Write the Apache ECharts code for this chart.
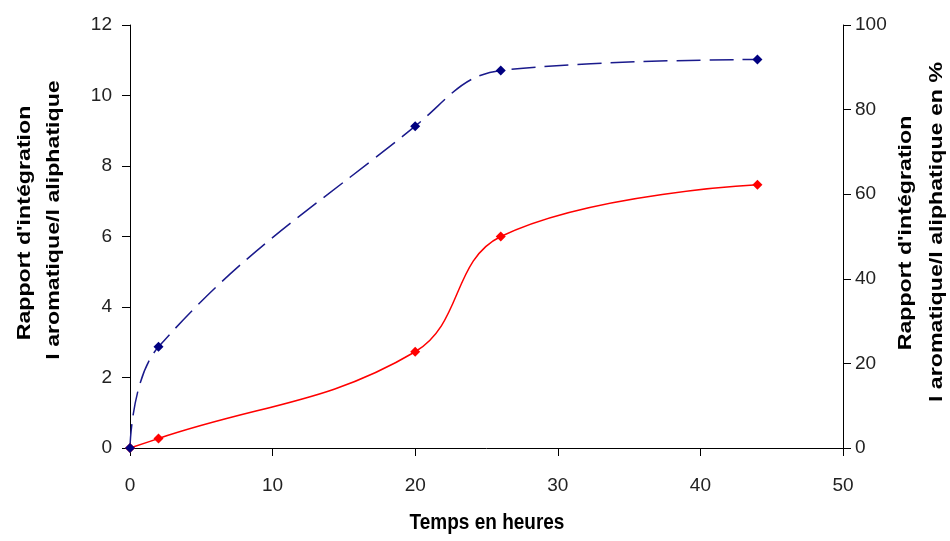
<!DOCTYPE html>
<html><head><meta charset="utf-8">
<script src="https://cdn.jsdelivr.net/npm/echarts@6/dist/echarts.min.js"></script>
<style>html,body{margin:0;padding:0;background:#fff}#c{width:950px;height:541px}</style>
</head><body><div id="c"></div>
<script>
const hours = [0, 2, 20, 26, 44];
const ratioValues = [0, 2.87, 9.13, 10.71, 11.02];
const percentValues = [0, 2.25, 22.75, 50.0, 62.25];
const xTicks = [0, 10, 20, 30, 40, 50];
const leftTitle = ["Rapport d'intégration", "l aromatique/l aliphatique"];
const rightTitle = ["Rapport d'intégration", "l aromatique/l aliphatique en %"];
const xTitle = "Temps en heures";

const chart = echarts.init(document.getElementById('c'), null, {renderer: 'canvas'});
const FONT = '"Liberation Sans", Arial, sans-serif';
const axisCommon = {
  axisLine: {show: true, lineStyle: {color: '#000', width: 1}},
  axisTick: {show: true, inside: false, length: 8, lineStyle: {color: '#000'}},
  splitLine: {show: false},
  axisLabel: {color: '#222', fontFamily: FONT, fontSize: 19}
};
function titleText(txt, x, y, rot, sx, sy) {
  return {type: 'text', x: x, y: y, rotation: rot, scaleX: sx, scaleY: sy,
    style: {text: txt, fill: '#000', font: 'bold 19px ' + FONT, align: 'center', verticalAlign: 'middle'}};
}
chart.setOption({
  animation: false,
  backgroundColor: '#fff',
  grid: {left: 130, right: 107, top: 25, bottom: 93},
  xAxis: Object.assign({}, axisCommon, {type: 'value', min: 0, max: 50, interval: 10,
    axisLabel: Object.assign({}, axisCommon.axisLabel, {margin: 28})}),
  yAxis: [
    Object.assign({}, axisCommon, {type: 'value', min: 0, max: 12, interval: 2, position: 'left',
      axisLabel: Object.assign({}, axisCommon.axisLabel, {margin: 18})}),
    Object.assign({}, axisCommon, {type: 'value', min: 0, max: 100, interval: 20, position: 'right',
      axisLabel: Object.assign({}, axisCommon.axisLabel, {margin: 12})})
  ],
  graphic: [
    titleText(leftTitle[0], 25, 223, Math.PI / 2, 1.22, 1),
    titleText(leftTitle[1], 54, 220, Math.PI / 2, 1.22, 1),
    titleText(rightTitle[0], 906, 233, Math.PI / 2, 1.22, 1),
    titleText(rightTitle[1], 937, 232, Math.PI / 2, 1.22, 1),
    titleText(xTitle, 487, 523, 0, 1, 1.2)
  ],
  series: [
    {type: 'line', name: 'pourcentage', yAxisIndex: 1, smooth: 0.4,
      data: hours.map((h, i) => [h, percentValues[i]]),
      symbol: 'diamond', symbolSize: 10,
      itemStyle: {color: '#ff0000'},
      lineStyle: {color: '#ff0000', width: 1.5, type: 'solid'}},
    {type: 'line', name: 'rapport', yAxisIndex: 0, smooth: 0.4,
      data: hours.map((h, i) => [h, ratioValues[i]]),
      symbol: 'diamond', symbolSize: 10,
      itemStyle: {color: '#000080'},
      lineStyle: {color: '#1a1a8c', width: 1.5, type: [24, 9]}}
  ]
});
</script></body></html>
